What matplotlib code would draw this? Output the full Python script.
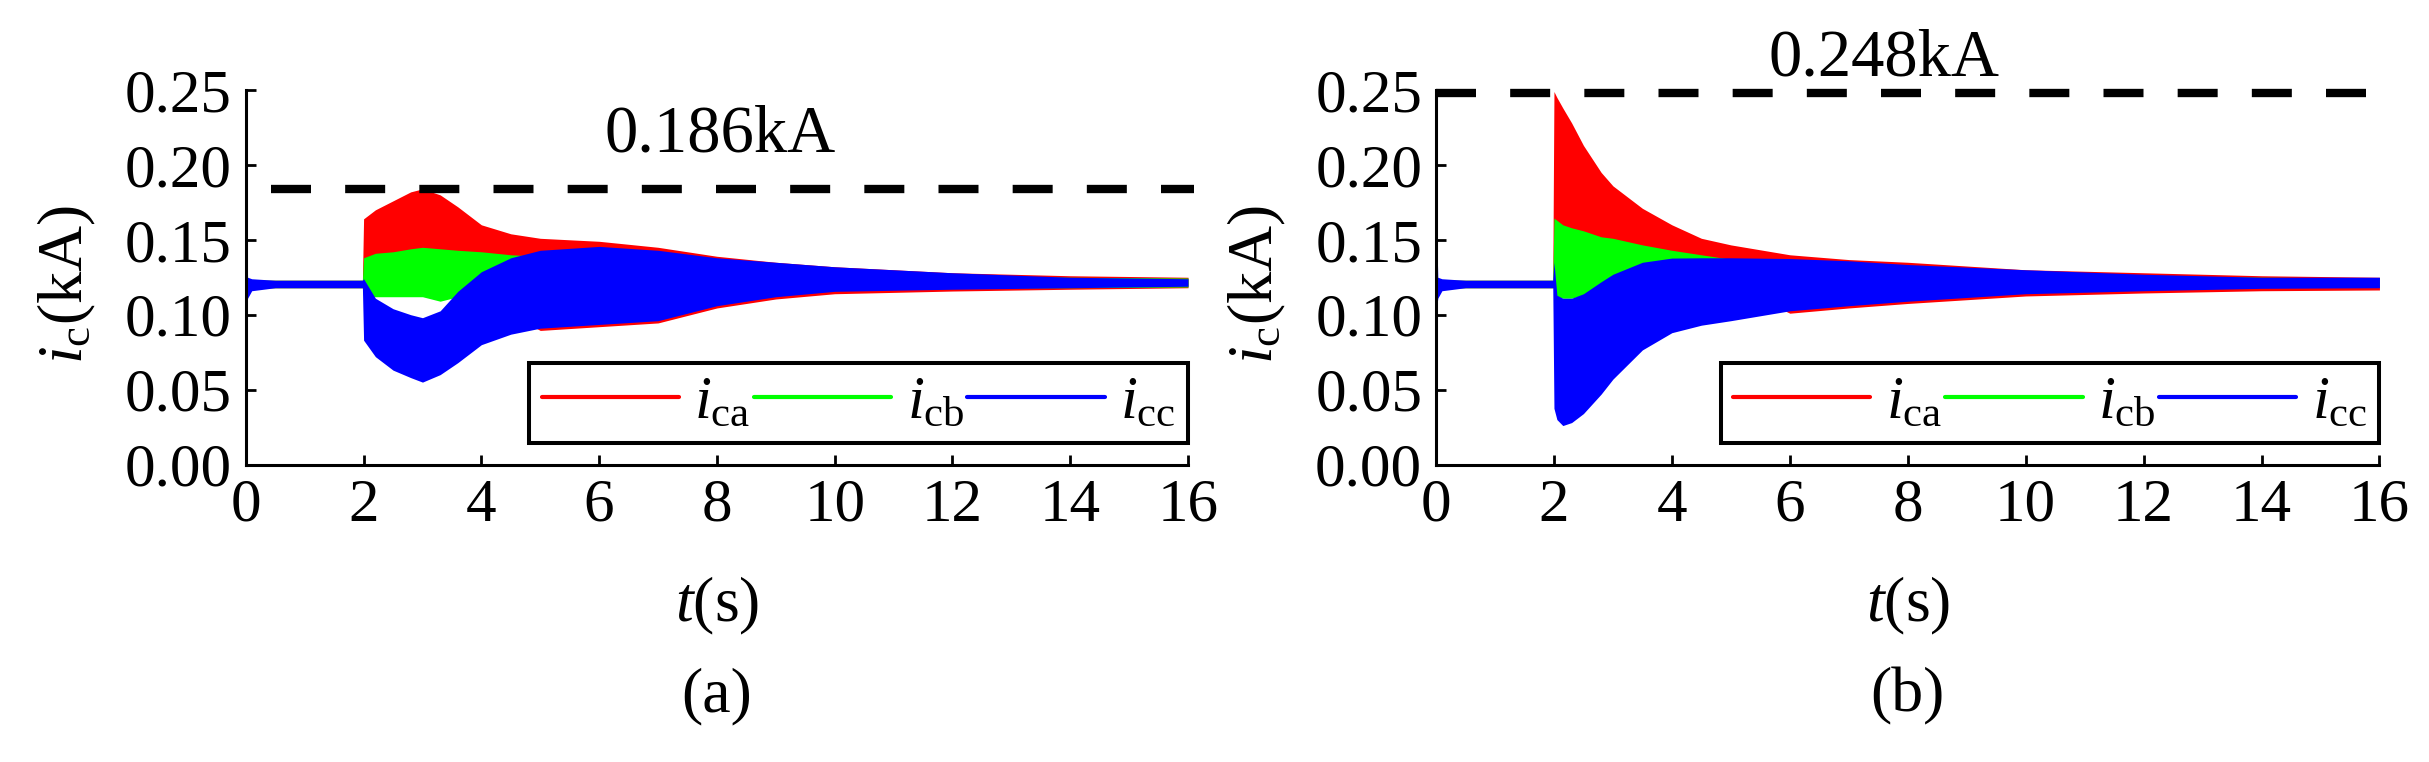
import matplotlib
matplotlib.use("Agg")
import matplotlib.pyplot as plt
from matplotlib.ticker import FormatStrFormatter

plt.rcParams['font.family'] = ['Liberation Serif', 'DejaVu Serif']
plt.rcParams['mathtext.fontset'] = 'custom'
plt.rcParams['mathtext.rm'] = 'Liberation Serif'
plt.rcParams['mathtext.it'] = 'Liberation Serif:italic'

# envelope of each phase current (kA)
t_a = [0, 0.03, 0.1, 0.5, 1.98, 2.0, 2.2, 2.5, 2.8, 3.0, 3.3, 3.6, 4.0, 4.5,
       5.0, 6.0, 7.0, 8.0, 9.0, 10, 12, 14, 16]
ica_up_a = [0.120, 0.123, 0.123, 0.123, 0.123, 0.164, 0.170, 0.176, 0.182, 0.184, 0.180, 0.172,
            0.160, 0.154, 0.151, 0.149, 0.145, 0.139, 0.135, 0.132, 0.128, 0.126, 0.125]
ica_lo_a = [0.118, 0.118, 0.118, 0.118, 0.118, 0.125, 0.125, 0.125, 0.125, 0.125, 0.125, 0.125,
            0.120, 0.100, 0.0895, 0.092, 0.0945, 0.1045, 0.1105, 0.114, 0.1158, 0.117, 0.118]
icb_up_a = [0.122, 0.123, 0.123, 0.123, 0.123, 0.138, 0.141, 0.142, 0.144, 0.145, 0.144, 0.143,
            0.142, 0.140, 0.139, 0.138, 0.137, 0.134, 0.131, 0.129, 0.126, 0.125, 0.1245]
icb_lo_a = [0.118, 0.118, 0.118, 0.118, 0.118, 0.112, 0.112, 0.112, 0.112, 0.112, 0.109, 0.112,
            0.118, 0.120, 0.120, 0.118, 0.118, 0.118, 0.118, 0.118, 0.118, 0.118, 0.1185]
icc_up_a = [0.175, 0.125, 0.124, 0.123, 0.123, 0.124, 0.111, 0.104, 0.100, 0.098, 0.1026, 0.1156,
            0.1287, 0.138, 0.143, 0.1456, 0.143, 0.138, 0.135, 0.132, 0.128, 0.125, 0.124]
icc_lo_a = [0.101, 0.111, 0.116, 0.118, 0.118, 0.083, 0.072, 0.063, 0.058, 0.055, 0.060, 0.068,
            0.080, 0.087, 0.091, 0.0935, 0.096, 0.106, 0.112, 0.1156, 0.117, 0.118, 0.119]

t_b = [0, 0.03, 0.1, 0.5, 1.98, 2.0, 2.05, 2.15, 2.3, 2.5, 2.8, 3.0, 3.5, 4.0,
       4.5, 5.0, 6.0, 7.0, 8.0, 10, 12, 14, 16]
ica_up_b = [0.120, 0.123, 0.123, 0.123, 0.123, 0.249, 0.245, 0.238, 0.228, 0.213, 0.195, 0.186,
            0.171, 0.160, 0.151, 0.1466, 0.140, 0.1368, 0.135, 0.130, 0.128, 0.126, 0.125]
ica_lo_b = [0.118, 0.118, 0.118, 0.118, 0.118, 0.130, 0.130, 0.130, 0.130, 0.130, 0.130, 0.130,
            0.128, 0.126, 0.125, 0.120, 0.101, 0.1045, 0.1075, 0.1125, 0.1145, 0.116, 0.1165]
icb_up_b = [0.122, 0.123, 0.123, 0.123, 0.123, 0.1645, 0.163, 0.160, 0.158, 0.156, 0.152, 0.151,
            0.1466, 0.143, 0.140, 0.137, 0.135, 0.133, 0.131, 0.128, 0.126, 0.125, 0.1245]
icb_lo_b = [0.118, 0.118, 0.118, 0.118, 0.118, 0.118, 0.112, 0.111, 0.111, 0.113, 0.119, 0.122,
            0.125, 0.120, 0.120, 0.120, 0.120, 0.120, 0.120, 0.120, 0.120, 0.120, 0.1185]
icc_up_b = [0.175, 0.125, 0.124, 0.123, 0.123, 0.135, 0.113, 0.111, 0.111, 0.114, 0.122, 0.127,
            0.135, 0.1378, 0.138, 0.138, 0.1375, 0.136, 0.1335, 0.130, 0.127, 0.125, 0.125]
icc_lo_b = [0.101, 0.111, 0.116, 0.118, 0.118, 0.0375, 0.030, 0.026, 0.028, 0.034, 0.047, 0.057,
            0.0765, 0.088, 0.093, 0.096, 0.1026, 0.106, 0.109, 0.114, 0.116, 0.1176, 0.118]

peak_a = 0.184
peak_b = 0.248
peak_labels = ['0.186kA', '0.248kA']
panel_labels = ['(a)', '(b)']
series_names = [r'$i_{\mathrm{ca}}$', r'$i_{\mathrm{cb}}$', r'$i_{\mathrm{cc}}$']
colors = ['#ff0000', '#00ff00', '#0000ff']

fig = plt.figure(figsize=(24.29, 7.62), dpi=100)
ax_a = fig.add_axes([0.1012, 0.3904, 0.3879, 0.4915])
ax_b = fig.add_axes([0.5912, 0.3904, 0.3884, 0.4915])

panels = [
    (ax_a, t_a, [(ica_up_a, ica_lo_a), (icb_up_a, icb_lo_a), (icc_up_a, icc_lo_a)],
     peak_a, (0.42, 16.1), (8.05, 0.2088)),
    (ax_b, t_b, [(ica_up_b, ica_lo_b), (icb_up_b, icb_lo_b), (icc_up_b, icc_lo_b)],
     peak_b, (0.0, 16.0), (7.6, 0.260)),
]

for k, (ax, t, bands, peak, xr, txt) in enumerate(panels):
    for (up, lo), c, name in zip(bands, colors, series_names):
        ax.fill_between(t, lo, up, color=c, lw=0)
        ax.plot([], [], color=c, lw=3, solid_capstyle='round', label=name)

    ax.plot(xr, [peak, peak], color='k', lw=6, dashes=(4.8, 4.1), clip_on=False)
    ax.text(txt[0], txt[1], peak_labels[k], fontsize=48, ha='center', va='baseline')

    ax.set_xlim(0, 16)
    ax.set_ylim(0, 0.25)
    ax.set_xticks(range(0, 17, 2))
    ax.set_yticks([0, 0.05, 0.10, 0.15, 0.20, 0.25])
    ax.yaxis.set_major_formatter(FormatStrFormatter('%.2f'))
    for s in ['top', 'right']:
        ax.spines[s].set_visible(False)
    for s in ['left', 'bottom']:
        ax.spines[s].set_linewidth(2.2)
    ax.tick_params(direction='in', length=7, width=2, labelsize=44, pad=10)

    ax.set_ylabel(r'$i_{\mathrm{c}}$(kA)', fontsize=46, va='center')
    ax.yaxis.set_label_coords(-0.19, 0.48)
    ax.set_xlabel(r'$t$(s)', fontsize=46, va='center')
    ax.xaxis.set_label_coords(0.5, -0.377)
    ax.text(0.5, -0.618, panel_labels[k], transform=ax.transAxes,
            fontsize=46, ha='center', va='center')

    leg = ax.legend(loc='lower right', bbox_to_anchor=(1.0, 0.057), borderaxespad=0,
                    ncol=3, fontsize=44, handlelength=2.25, handletextpad=0.25,
                    columnspacing=0.05, borderpad=0.2, fancybox=False, framealpha=1)
    leg.get_frame().set_edgecolor('k')
    leg.get_frame().set_linewidth(2.9)

fig.savefig('out.png', dpi=100)
